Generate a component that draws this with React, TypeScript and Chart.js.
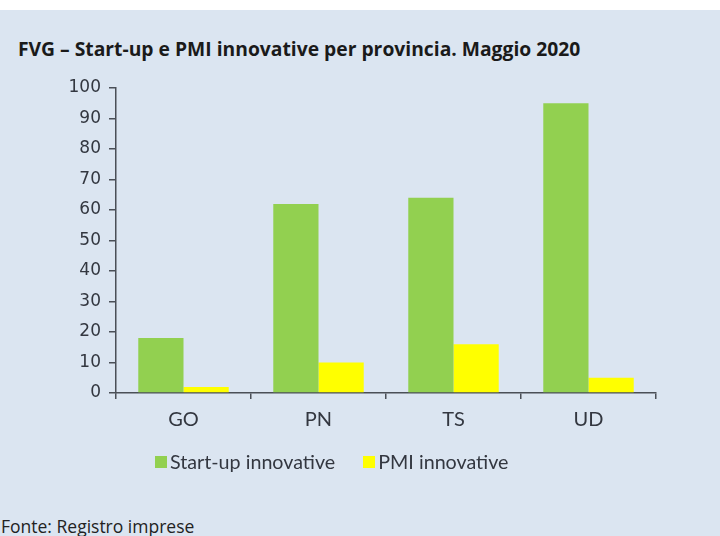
import React, { useEffect, useRef } from "react";
import { Chart, registerables } from "chart.js";

Chart.register(...registerables);

const categories = ["GO", "PN", "TS", "UD"];
const startupValues = [18, 62, 64, 95];
const pmiValues = [2, 10, 16, 5];
const seriesNames = ["Start-up innovative", "PMI innovative"];
const seriesColors = ["#92d050", "#ffff00"];
const yTicks = [0, 10, 20, 30, 40, 50, 60, 70, 80, 90, 100];
const titleText = "FVG – Start-up e PMI innovative per provincia. Maggio 2020";
const footerText = "Fonte: Registro imprese";

const BG = "#dbe5f1";
const AXIS = "#4a4f57";
const TEXT = "#333740";

export default function App() {
  const ref = useRef<HTMLCanvasElement | null>(null);

  useEffect(() => {
    document.body.style.margin = "0";
    const canvas = ref.current;
    if (!canvas) return;
    const chart = new Chart(canvas, {
      type: "bar",
      data: {
        labels: categories,
        datasets: [
          {
            label: seriesNames[0],
            data: startupValues,
            backgroundColor: seriesColors[0],
            categoryPercentage: 0.67,
            barPercentage: 1,
          },
          {
            label: seriesNames[1],
            data: pmiValues,
            backgroundColor: seriesColors[1],
            categoryPercentage: 0.67,
            barPercentage: 1,
          },
        ],
      },
      options: {
        animation: false,
        responsive: false,
        maintainAspectRatio: false,
        layout: { padding: { top: 78, right: 64, left: 0, bottom: 0 } },
        plugins: {
          legend: { display: false },
          tooltip: { enabled: false },
          title: { display: false },
        },
        scales: {
          x: {
            border: { display: true, color: AXIS, width: 1.5 },
            grid: {
              display: true,
              drawOnChartArea: false,
              drawTicks: true,
              tickLength: 6,
              offset: true,
              color: (ctx: any) => (ctx.index === 4 ? "rgba(0,0,0,0)" : AXIS),
              lineWidth: 1.5,
            },
            ticks: {
              color: TEXT,
              padding: 9,
              font: { family: "Lato", size: 20 },
            },
            afterFit: (scale: any) => {
              scale.height = 57;
            },
          },
          y: {
            min: 0,
            max: 100,
            border: { display: true, color: AXIS, width: 1.5 },
            grid: {
              display: true,
              drawOnChartArea: false,
              drawTicks: true,
              tickLength: 7,
              color: AXIS,
              lineWidth: 1.5,
            },
            afterBuildTicks: (scale: any) => {
              scale.ticks = yTicks.map((v) => ({ value: v }));
            },
            ticks: {
              color: TEXT,
              padding: 8,
              font: { family: "DejaVu Sans", size: 17 },
            },
            afterFit: (scale: any) => {
              scale.width = 116;
            },
          },
        },
      },
    });
    return () => chart.destroy();
  }, []);

  return (
    <div
      style={{
        position: "relative",
        width: 720,
        height: 536,
        background: "#ffffff",
        overflow: "hidden",
        fontFamily: "'Open Sans', sans-serif",
      }}
    >
      <div
        style={{
          position: "absolute",
          left: 0,
          top: 10,
          width: 720,
          height: 526,
          background: BG,
        }}
      />
      <div
        style={{
          position: "absolute",
          left: 18,
          top: 36,
          fontFamily: "'Open Sans', sans-serif",
          fontWeight: 700,
          fontSize: 19.3,
          color: "#1a1a1a",
          whiteSpace: "nowrap",
          lineHeight: "26px",
        }}
      >
        {titleText}
      </div>
      <canvas
        ref={ref}
        width={720}
        height={440}
        style={{ position: "absolute", left: 0, top: 10, width: 720, height: 440 }}
      />
      <div
        style={{
          position: "absolute",
          left: 155,
          top: 449,
          display: "flex",
          alignItems: "center",
          fontFamily: "Lato, sans-serif",
          fontSize: 19.7,
          color: TEXT,
          whiteSpace: "nowrap",
          lineHeight: "26px",
        }}
      >
        <span style={{ display: "inline-block", width: 12, height: 12, background: seriesColors[0], marginRight: 3 }} />
        <span style={{ marginRight: 28 }}>{seriesNames[0]}</span>
        <span style={{ display: "inline-block", width: 12, height: 12, background: seriesColors[1], marginRight: 3 }} />
        <span>{seriesNames[1]}</span>
      </div>
      <div
        style={{
          position: "absolute",
          left: 1,
          top: 514,
          fontFamily: "'Open Sans', sans-serif",
          fontSize: 17.5,
          color: "#222",
          whiteSpace: "nowrap",
          lineHeight: "24px",
        }}
      >
        {footerText}
      </div>
    </div>
  );
}
